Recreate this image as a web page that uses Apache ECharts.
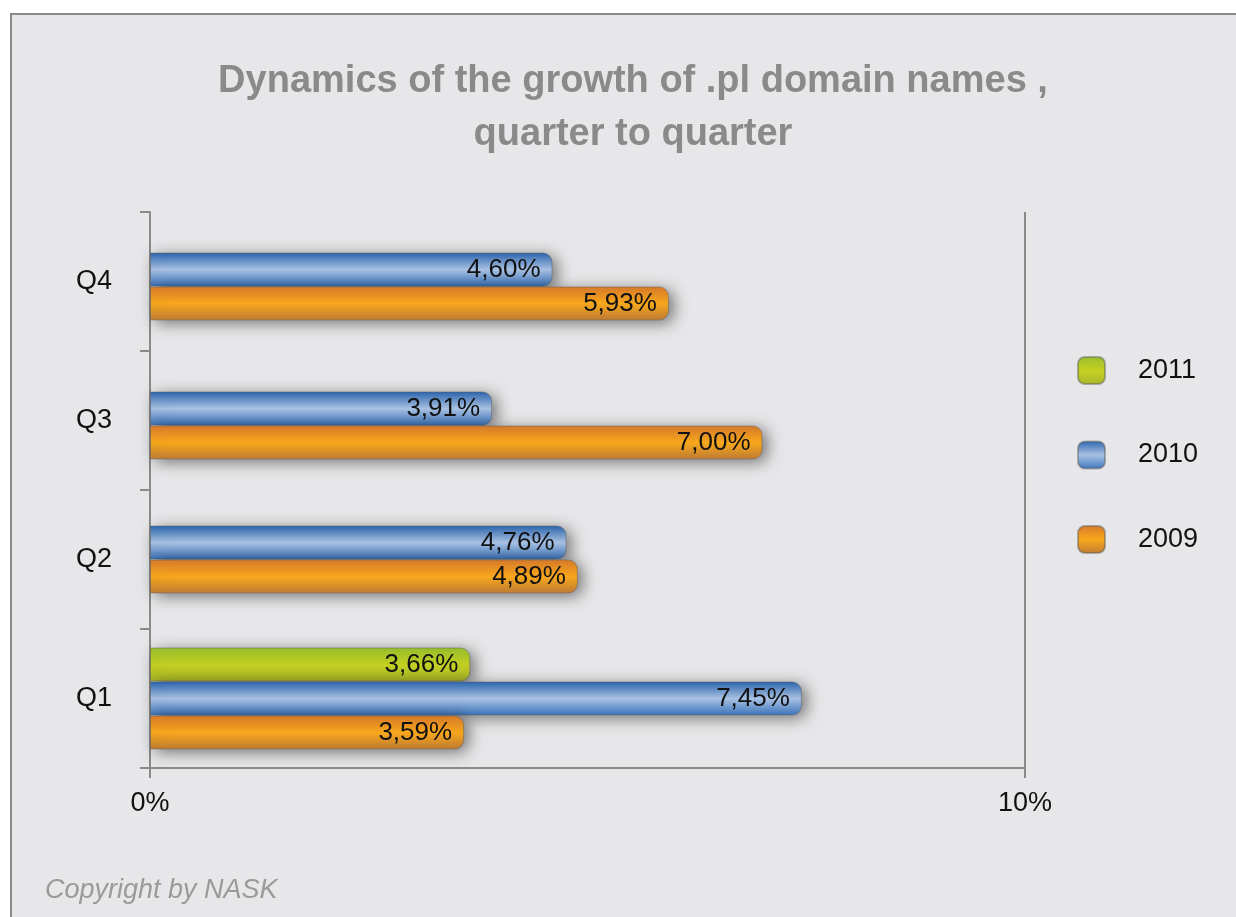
<!DOCTYPE html>
<html>
<head>
<meta charset="utf-8">
<script src="https://cdn.jsdelivr.net/npm/echarts@6/dist/echarts.min.js"></script>
<style>
  html, body { margin: 0; padding: 0; background: #fff; }
  #frame {
    position: absolute; left: 10px; top: 13px; width: 1240px; height: 920px;
    background: #e7e7e9; border-left: 2px solid #8a8a8a; border-top: 2px solid #8a8a8a;
  }
  #chart { position: absolute; left: 0; top: 0; width: 1236px; height: 917px; }
</style>
</head>
<body>
<div id="frame"></div>
<div id="chart"></div>
<script>
const categories = ['Q1', 'Q2', 'Q3', 'Q4'];
const v2011 = [3.66, null, null, null];
const v2010 = [7.45, 4.76, 3.91, 4.60];
const v2009 = [3.59, 4.89, 7.00, 5.93];
const xTicks = [0, 10];

const grad = (top, mid, bot) => new echarts.graphic.LinearGradient(0, 0, 0, 1, [
  { offset: 0, color: top },
  { offset: 0.5, color: mid },
  { offset: 1, color: bot }
]);
const colors = {
  '2011': grad('#98bf2e', '#c4d022', '#a9b82a'),
  '2010': grad('#2a64ae', '#a8c1e2', '#3a74bc'),
  '2009': grad('#d87a2c', '#f8a81c', '#bf7c34')
};

const fmt = v => v.toFixed(2).replace('.', ',') + '%';
const font = 'Liberation Sans, Arial, sans-serif';

// bars of each group sit on their own hidden category axis so the groups are laid out separately
// axis 0: Q1 (three bars), axis 1: Q2, axis 2: Q3 and Q4 (pushed a little lower like the original)
const groupOf = i => (i === 0 ? 0 : i === 1 ? 1 : 2);
const pick = (arr, g) => arr.map((v, i) => (groupOf(i) === g && v != null) ? v : '-');

function bar(name, data, axis) {
  return {
    name: name,
    type: 'bar',
    yAxisIndex: axis,
    data: data,
    barWidth: 34,
    barGap: '0%',
    itemStyle: {
      color: colors[name],
      borderRadius: [0, 9, 9, 0],
      borderColor: 'rgba(90,90,90,0.45)',
      borderWidth: 1,
      shadowBlur: 16,
      shadowColor: 'rgba(0,0,0,0.5)',
      shadowOffsetX: 5,
      shadowOffsetY: 3
    },
    label: {
      show: true,
      position: 'insideRight',
      distance: 12,
      formatter: p => fmt(p.value),
      color: '#111',
      fontSize: 26,
      fontFamily: font
    }
  };
}

// empty slot that only takes room in the bar layout
function spacer(axis, width) {
  return {
    name: 'spacer',
    type: 'bar',
    yAxisIndex: axis,
    data: categories.map(() => '-'),
    barWidth: width,
    barGap: '0%',
    silent: true
  };
}

const chart = echarts.init(document.getElementById('chart'), null, { renderer: 'canvas' });

chart.setOption({
  backgroundColor: 'transparent',
  animation: false,
  title: {
    text: 'Dynamics of the growth of .pl domain names ,\nquarter to quarter',
    left: 628,
    top: 50,
    textAlign: 'center',
    textStyle: {
      color: '#8a8a8a',
      fontSize: 38,
      fontWeight: 'bold',
      lineHeight: 53,
      fontFamily: font
    }
  },
  graphic: [{
    type: 'text',
    left: 45,
    top: 877,
    style: {
      text: 'Copyright by NASK',
      fill: '#9a9a9a',
      font: 'italic 27px "Liberation Sans", Arial, sans-serif'
    }
  }],
  legend: {
    data: ['2011', '2010', '2009'],
    orient: 'vertical',
    left: 1077,
    top: 356,
    padding: 0,
    icon: 'roundRect',
    itemWidth: 27,
    itemHeight: 27,
    itemGap: 55.5,
    textStyle: {
      color: '#111',
      fontSize: 27,
      lineHeight: 27,
      padding: [0, 0, 0, 28],
      fontFamily: font
    }
  },
  grid: { left: 150, right: 211, top: 212, bottom: 149 },
  xAxis: {
    type: 'value',
    min: 0,
    max: 10,
    interval: 10,
    axisLine: { show: true, lineStyle: { color: '#8a8a8a', width: 2 } },
    axisTick: { show: true, length: 10, lineStyle: { color: '#8a8a8a', width: 2 } },
    splitLine: { show: true, lineStyle: { color: '#8a8a8a', width: 2 } },
    axisLabel: {
      formatter: v => xTicks.includes(v) ? v + '%' : '',
      color: '#111',
      fontSize: 27,
      margin: 22,
      fontFamily: font
    }
  },
  yAxis: [{
    type: 'category',
    data: categories,
    axisLine: { show: true, lineStyle: { color: '#8a8a8a', width: 2 } },
    axisTick: { show: true, length: 10, lineStyle: { color: '#8a8a8a', width: 2 } },
    axisLabel: {
      color: '#111',
      fontSize: 27,
      margin: 38,
      fontFamily: font
    }
  }, {
    type: 'category',
    data: categories,
    show: false
  }, {
    type: 'category',
    data: categories,
    show: false
  }],
  series: [
    bar('2011', pick(v2011, 0), 0),
    bar('2010', pick(v2010, 0), 0),
    bar('2009', pick(v2009, 0), 0),
    bar('2010', pick(v2010, 1), 1),
    bar('2009', pick(v2009, 1), 1),
    spacer(2, 10),
    bar('2010', pick(v2010, 2), 2),
    bar('2009', pick(v2009, 2), 2)
  ]
});
</script>
</body>
</html>
